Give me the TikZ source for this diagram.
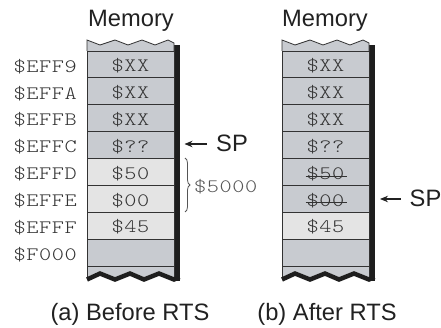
\documentclass[tikz,border=0pt]{standalone}
\usepackage{fontspec}
\setsansfont{Liberation Sans}
\newfontfamily\cmono{lmmonolt10-regular}[Extension=.otf, FakeStretch=1.22, LetterSpace=3]
\usetikzlibrary{arrows.meta,decorations.pathreplacing,calc}
\definecolor{memgray}{HTML}{C8CBD0}
\definecolor{memlight}{HTML}{E4E4E4}
\definecolor{edgec}{HTML}{333333}
\definecolor{shadowc}{HTML}{1E1E1E}
\definecolor{monoc}{HTML}{333333}
\definecolor{bracec}{HTML}{555555}
\newcommand\monofnt{\cmono\fontsize{19}{19}\selectfont}
\newcommand\sansfnt{\sffamily\fontsize{23.7}{23.7}\selectfont}
\tikzset{
  cell/.style={draw=edgec, line width=0.8pt, minimum width=87pt, minimum height=26.875pt,
    inner sep=0pt, font=\monofnt, text=monoc, text height=14.6pt, text depth=0pt},
  graycell/.style={cell, fill=memgray},
  lightcell/.style={cell, fill=memlight},
  addr/.style={font=\monofnt, text=monoc, inner sep=0pt, anchor=base east},
  sanslabel/.style={font=\sansfnt, text=black!87, inner sep=0pt, anchor=base},
  spar/.style={-{Stealth[length=8pt,width=6.5pt]}, line width=1.1pt, black!87},
  strike/.style={draw=monoc, line width=0.8pt},
  bracestyle/.style={decorate, decoration={brace, amplitude=5pt}, draw=bracec, line width=0.8pt}
}
\begin{document}
\begin{tikzpicture}[x=1pt,y=-1pt]
\useasboundingbox (0,0) rectangle (441,328);
% column bodies (left x0=87, right x0=282)
\foreach \xo in {87,282}{
  \begin{scope}[shift={(\xo,0)}]
    % right shadow
    \fill[shadowc] (87,45) rectangle (92.5,281);
    % top torn edge
    \fill[memgray] (0,51) -- (0,40) -- (13,45) -- (28,40) -- (41,45) -- (55,40) -- (68,45) -- (81,40) -- (87,43) -- (87,51) -- cycle;
    \draw[edgec, line width=0.8pt] (0,51) -- (0,40) -- (13,45) -- (28,40) -- (41,45) -- (55,40) -- (68,45) -- (81,40) -- (87,43) -- (87,51);
    % bottom torn edge
    \fill[memgray] (0,266) -- (87,266) -- (87,277) -- (72,271) -- (57,277) -- (43,271) -- (28,277) -- (13,271) -- (0,277) -- cycle;
    \draw[edgec, line width=0.8pt] (0,266) -- (0,278);
    \draw[shadowc, line width=4.5pt, line join=miter] (0,279.5) -- (13,273.5) -- (28,279.5) -- (43,273.5) -- (57,279.5) -- (72,273.5) -- (87,279.5) -- (92.5,277);
  \end{scope}
}
% left memory cells (a)
\node[graycell]  (a1) at (130.5,64.44)  {\$XX};
\node[graycell]  (a2) at (130.5,91.31)  {\$XX};
\node[graycell]  (a3) at (130.5,118.19) {\$XX};
\node[graycell]  (a4) at (130.5,145.06) {\$??};
\node[lightcell] (a5) at (130.5,171.94) {\$50};
\node[lightcell] (a6) at (130.5,198.81) {\$00};
\node[lightcell] (a7) at (130.5,225.69) {\$45};
\node[graycell]  (a8) at (130.5,252.56) {};
% right memory cells (b)
\node[graycell]  (b1) at (325.5,64.44)  {\$XX};
\node[graycell]  (b2) at (325.5,91.31)  {\$XX};
\node[graycell]  (b3) at (325.5,118.19) {\$XX};
\node[graycell]  (b4) at (325.5,145.06) {\$??};
\node[graycell]  (b5) at (325.5,171.94) {\$50};
\node[graycell]  (b6) at (325.5,198.81) {\$00};
\node[lightcell] (b7) at (325.5,225.69) {\$45};
\node[graycell]  (b8) at (325.5,252.56) {};
% strike-outs
\draw[strike] ($(b5.center)+(-20,4)$) -- ($(b5.center)+(21,4)$);
\draw[strike] ($(b6.center)+(-20,4)$) -- ($(b6.center)+(21,4)$);
% addresses
\node[addr] (ad1) at (77,72.2)  {\$EFF9};
\node[addr] (ad2) at (77,99.1)  {\$EFFA};
\node[addr] (ad3) at (77,126.0) {\$EFFB};
\node[addr] (ad4) at (77,152.8) {\$EFFC};
\node[addr] (ad5) at (77,179.7) {\$EFFD};
\node[addr] (ad6) at (77,206.6) {\$EFFE};
\node[addr] (ad7) at (77,233.5) {\$EFFF};
\node[addr] (ad8) at (77,260.3) {\$F000};
% brace and $5000
\draw[bracestyle] (185,158) -- (185,212);
\node[font=\monofnt, text=bracec, inner sep=0pt, anchor=base west] (ret) at (194,192.5) {\$5000};
% titles
\node[sanslabel] (mema) at (131,26.7) {Memory};
\node[sanslabel] (memb) at (325,26.7) {Memory};
\node[sanslabel] (capa) at (130,320) {(a) Before RTS};
\node[sanslabel] (capb) at (327,320) {(b) After RTS};
% SP pointers
\node[sanslabel, anchor=base west] (spa) at (216,151.7) {SP};
\node[sanslabel, anchor=base west] (spb) at (409.5,206.7) {SP};
\coordinate (spat) at (184.5,144);
\coordinate (spbt) at (380,199);
\draw[spar] ([xshift=-9pt]spa.west |- spat) -- (spat);
\draw[spar] ([xshift=-9pt]spb.west |- spbt) -- (spbt);
\end{tikzpicture}
\end{document}
